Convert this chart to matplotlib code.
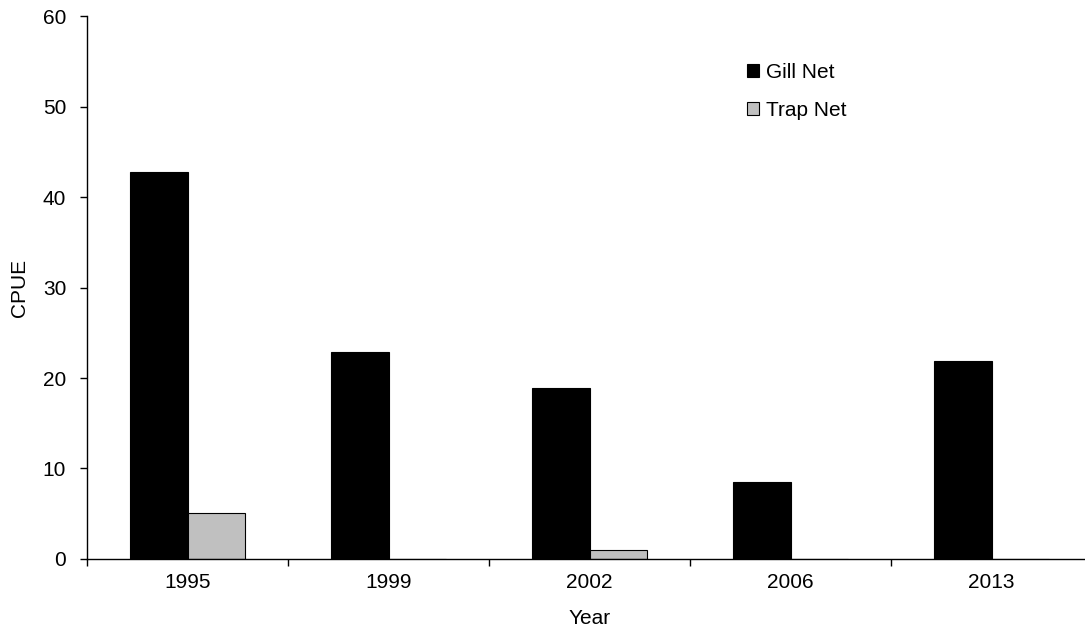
import numpy as np
import matplotlib.pyplot as plt

plt.rcParams['font.family'] = ['Liberation Sans', 'DejaVu Sans']

years = ['1995', '1999', '2002', '2006', '2013']
gill_net = [42.8, 22.9, 18.9, 8.5, 21.9]
trap_net = [5.1, 0, 1.0, 0, 0]

fig = plt.figure(figsize=(10.85, 6.3), dpi=100)
ax = fig.add_axes([0.0802, 0.1127, 0.9263, 0.8619])

x = np.arange(len(years))
w = 0.284
ax.bar(x - w, gill_net, w, align='edge', color='black', edgecolor='black', linewidth=0.8, label='Gill Net')
ax.bar(x, trap_net, w, align='edge', color='#c0c0c0', edgecolor='black', linewidth=0.8, label='Trap Net')

ax.set_xlim(-0.5, len(years) - 0.5)
ax.set_ylim(0, 60)
ax.set_yticks(range(0, 61, 10))
ax.set_xticks(x)
ax.set_xticklabels(years)
ax.set_xticks(np.arange(-0.5, len(years), 1), minor=True)
ax.tick_params(axis='x', which='major', length=0, pad=10, labelsize=15)
ax.tick_params(axis='x', which='minor', length=5, direction='out', width=1)
ax.tick_params(axis='y', length=5, direction='out', width=1, labelsize=15, pad=10)

for s in ['top', 'right']:
    ax.spines[s].set_visible(False)
for s in ['left', 'bottom']:
    ax.spines[s].set_linewidth(1)

ax.set_xlabel('Year', fontsize=15, labelpad=12)
ax.set_ylabel('CPUE', fontsize=15, labelpad=10)

fig.legend(loc='upper left', bbox_to_anchor=(0.671, 0.93), frameon=False, fontsize=15,
           handlelength=0.6, handleheight=0.6, handletextpad=0.3, labelspacing=0.9)

fig.savefig('out.png', dpi=100)
